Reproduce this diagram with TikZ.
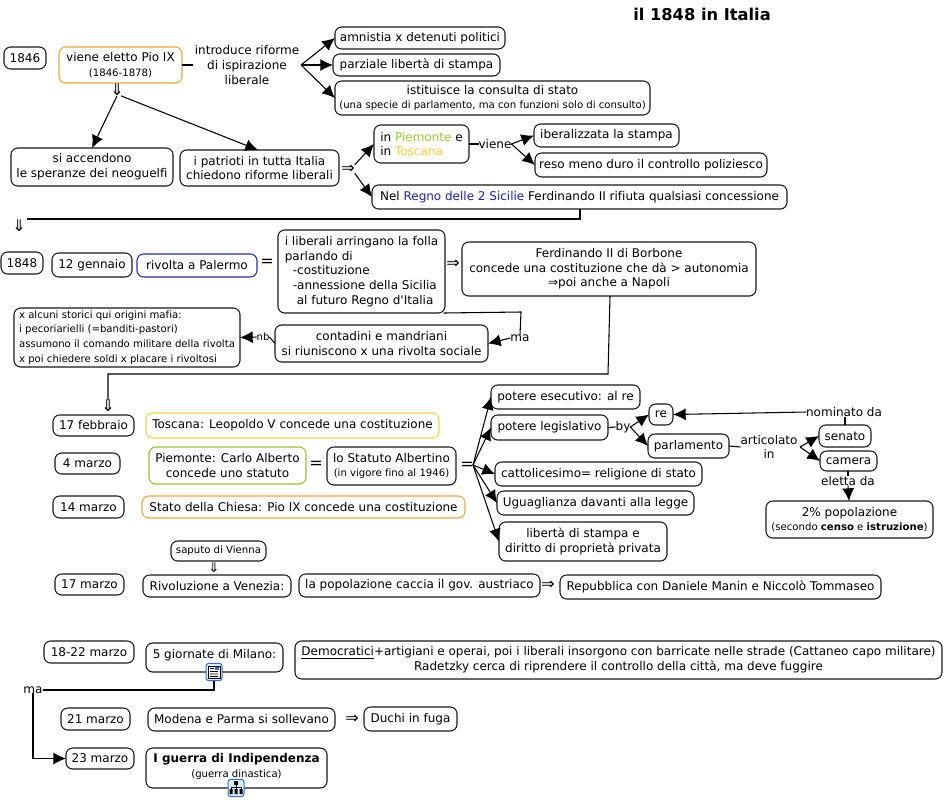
\documentclass[tikz,border=0pt]{standalone}
\usepackage{fontspec}
\usetikzlibrary{arrows.meta}
\newfontfamily\mainf[Ligatures=NoCommon]{DejaVu Sans}
\definecolor{cOrange}{HTML}{E8A83C}
\definecolor{cBlue}{HTML}{2A2AB0}
\definecolor{cYellow}{HTML}{F2D254}
\definecolor{cGreen}{HTML}{9DBE36}
\definecolor{tGreen}{HTML}{99CC33}
\definecolor{tYellow}{HTML}{FFCC33}
\definecolor{tBlue}{HTML}{1F1FB8}
\definecolor{iconBlue}{HTML}{2F6FC0}
\definecolor{iconFill}{HTML}{DCEBFA}
\newcommand\fn{\fontsize{9}{11}\selectfont}
\newcommand\sm{\fontsize{7.6}{9.4}\selectfont}
\newcommand\bx[7][]{\node[boxbase,#1,minimum width={(#5-#3)*0.75pt},minimum height={(#6-#4)*0.75pt}] (#2) at ({(#3+#5)/2},{(#4+#6)/2}) {#7};}
\tikzset{
  x=0.75pt,y=-0.75pt,
  every node/.style={font=\mainf\fn,inner sep=0pt,outer sep=0pt},
  boxbase/.style={draw=black!90,line width=0.8pt,rounded corners=5pt,align=center},
  orangebox/.style={draw=cOrange},
  bluebox/.style={draw=cBlue},
  yellowbox/.style={draw=cYellow},
  greenbox/.style={draw=cGreen},
  leftbox/.style={align=left},
  lab/.style={align=center},
  sym/.style={font=\mainf\fontsize{12}{13}\selectfont},
  arr/.style={line width=0.8pt,-{Latex[length=9.5pt,width=9pt]}},
  conn/.style={line width=0.8pt},
  iconbox/.style={draw=iconBlue,fill=iconFill,line width=0.75pt,rounded corners=2pt,minimum width=12pt,minimum height=13pt},
}
\begin{document}
\begin{tikzpicture}
\useasboundingbox (0,0) rectangle (944,800);
\fill[white] (0,0) rectangle (944,800);
\node[font=\mainf\fontsize{12.2}{14}\selectfont\bfseries] (title) at (702,14) {il 1848 in Italia};
% 1846
\bx{y1846}{4}{47}{46}{69}{1846}
\bx[orangebox]{pio}{59}{47}{182}{83}{viene eletto Pio IX\\\sm(1846-1878)}
\node[lab] (intro) at (247,65) {introduce riforme\\di ispirazione\\liberale};
\bx{amn}{335}{27}{505}{49}{amnistia x detenuti politici}
\bx{parz}{333}{54}{500}{76}{parziale libertà di stampa}
\bx{cons}{335}{81}{650}{115}{istituisce la consulta di stato\\\sm(una specie di parlamento, ma con funzioni solo di consulto)}
\draw[conn] (pio.east) -- ([xshift=-1.5pt]intro.west);
\coordinate (jintro) at (301,65);
\draw[arr] (jintro) -- (amn.west);
\draw[arr] (jintro) -- (parz.west);
\draw[arr] (jintro) -- (cons.west);
\node[sym] (dd1) at (117,90) {⇓};
\bx{neog}{11}{148}{173}{186}{si accendono\\le speranze dei neoguelfi}
\bx{patr}{180}{150}{339}{186}{i patrioti in tutta Italia\\chiedono riforme liberali}
\draw[arr] (dd1.south) -- (neog.north -| 92,0);
\draw[arr] ([xshift=3pt]dd1.south) -- (patr.north -| 258,0);
\node[sym] (ar1) at (348,169) {⇒};
\bx[leftbox]{piem}{374}{125}{469}{163}{in {\color{tGreen}Piemonte} e\\in {\color{tYellow}Toscana}}
\bx{nel}{372}{185}{787}{209}{Nel {\color{tBlue}Regno delle 2 Sicilie} Ferdinando II rifiuta qualsiasi concessione}
\draw[arr] (ar1.north east) -- (piem.west);
\draw[arr] (ar1.south east) -- (nel.west);
\node (viene) at (495,144) {viene};
\bx{iber}{534}{124}{679}{147}{iberalizzata la stampa}
\bx{reso}{535}{153}{767}{177}{reso meno duro il controllo poliziesco}
\draw[conn] (piem.east) -- (viene.west);
\draw[arr] (viene.east) -- (iber.west);
\draw[arr] (viene.east) -- (reso.west);
\node[sym] (dd2) at (19,226) {⇓};
\coordinate (t2) at (27,219);
\draw[conn] (nel.south -| 580,0) -- (580,219) -- (t2);
% 1848
\bx{y1848}{1}{252}{43}{274}{1848}
\bx{genn}{52}{253}{132}{277}{12 gennaio}
\bx[bluebox]{palermo}{137}{254}{257}{277}{rivolta a Palermo}
\node[sym] (eq1) at (267,263) {=};
\bx[leftbox]{lib}{278}{230}{445}{313}{i liberali arringano la folla\\parlando di\\\hspace*{6pt}-costituzione\\\hspace*{6pt}-annessione della Sicilia\\\hspace*{9pt}al futuro Regno d'Italia}
\node[sym] (ar2) at (453,264) {⇒};
\bx{ferd}{462}{242}{756}{296}{Ferdinando II di Borbone\\concede una costituzione che dà > autonomia\\⇒poi anche a Napoli}
\node (ma1) at (520,338) {ma};
\bx{cont}{275}{325}{488}{362}{contadini e mandriani\\si riuniscono x una rivolta sociale}
\node[font=\mainf\sm] (nb) at (263,337) {nb};
\bx[leftbox]{stor}{14}{308}{240}{367}{\sm x alcuni storici qui origini mafia:\\\sm i pecoriarielli (=banditi-pastori)\\\sm assumono il comando militare della rivolta\\\sm x poi chiedere soldi x placare i rivoltosi}
\draw[conn] (lib.south east) ++(-1pt,0) -- (521,312) -- (ma1.north);
\draw[arr] (ma1.west) -- (cont.east);
\draw[conn] (cont.west) -- (nb.east);
\draw[arr] (nb.west) -- (stor.east);
\node[sym] (dd3) at (108,406) {⇓};
\draw[conn] (ferd.south -| 610,0) -- (608,374) -- (108,374) -- (dd3.north);
% 17 febbraio
\bx{feb17}{53}{415}{134}{436}{17 febbraio}
\bx[yellowbox]{tosc}{146}{413}{439}{438}{Toscana: Leopoldo V concede una costituzione}
\bx{mar4}{55}{453}{120}{474}{4 marzo}
\bx[greenbox]{piem2}{149}{447}{306}{484}{Piemonte: Carlo Alberto\\concede uno statuto}
\node[sym] (eq2) at (316,465) {=};
\bx{stat}{327}{447}{456}{485}{lo Statuto Albertino\\\sm(in vigore fino al 1946)}
\node[sym] (eq3) at (467,466) {=};
\bx{esec}{491}{385}{640}{409}{potere esecutivo: al re}
\bx{legi}{491}{415}{608}{440}{potere legislativo}
\bx{catt}{495}{462}{702}{486}{cattolicesimo= religione di stato}
\bx{ugua}{497}{491}{694}{515}{Uguaglianza davanti alla legge}
\bx{libe}{499}{522}{667}{561}{libertà di stampa e\\diritto di proprietà privata}
\coordinate (jeq) at (473,465);
\draw[arr] (jeq) -- (esec.west);
\draw[arr] (jeq) -- (legi.west);
\draw[arr] (jeq) -- (catt.west);
\draw[arr] (jeq) -- (ugua.west);
\draw[arr] (jeq) -- (libe.west);
\node (by) at (623,427) {by};
\bx{re}{649}{404}{673}{425}{re}
\bx{parl}{648}{434}{729}{458}{parlamento}
\draw[conn] (legi.east) -- (by.west);
\draw[arr] (by.east) -- (re.west);
\draw[arr] (by.east) -- (parl.west);
\node[lab] (artic) at (769,447) {articolato\\in};
\bx{sen}{819}{425}{871}{447}{senato}
\bx{cam}{820}{451}{877}{471}{camera}
\draw[conn] (parl.east) -- (artic.west);
\coordinate (jart) at (800,447);
\draw[arr] (jart) -- (sen.west);
\draw[arr] (jart) -- (cam.west);
\node (nom) at (844,412) {nominato da};
\draw[arr] (nom.west) -- (re.east);
\draw[conn] (nom.south -| 845,0) -- (sen.north -| 845,0);
\node (elet) at (848,481) {eletta da};
\bx{pop}{766}{501}{933}{538}{2\% popolazione\\\sm(secondo \textbf{censo} e \textbf{istruzione})}
\draw[conn] (cam.south -| 848,0) -- (elet.north);
\draw[arr] (elet.south) -- (pop.north -| 849,0);
% 14 marzo
\bx{mar14}{53}{496}{124}{518}{14 marzo}
\bx[orangebox]{chiesa}{142}{496}{465}{518}{Stato della Chiesa: Pio IX concede una costituzione}
\bx{vienna}{171}{541}{266}{561}{\sm saputo di Vienna}
\node[font=\mainf\fontsize{10}{11}\selectfont] (dd4) at (214,568) {⇓};
\bx{mar17}{55}{574}{124}{595}{17 marzo}
\bx{riv}{143}{575}{291}{597}{Rivoluzione a Venezia:}
\bx{caccia}{299}{574}{540}{597}{la popolazione caccia il gov. austriaco}
\node[sym] (ar3) at (548,585) {⇒};
\bx{rep}{560}{575}{881}{599}{Repubblica con Daniele Manin e Niccolò Tommaseo}
% 18-22
\bx{mar18}{44}{641}{134}{663}{18-22 marzo}
\bx{gior}{146}{643}{283}{672}{5 giornate di Milano:\rule[-5pt]{0pt}{1pt}}
\bx{demo}{295}{641}{942}{679}{\underline{Democratici}+artigiani e operai, poi i liberali insorgono con barricate nelle strade (Cattaneo capo militare)\\Radetzky cerca di riprendere il controllo della città, ma deve fuggire}
\node[iconbox] (ic1) at (214,672) {};
\fill[white,draw=black,line width=.4pt] (208,666) rectangle (220,678);
\fill[black] (210,668) rectangle (214,669) (210,671) rectangle (218,671.8) (210,673.5) rectangle (218,674.3) (210,676) rectangle (218,676.8);
\fill[iconBlue] (215,667) rectangle (219,670);
\node (ma2) at (33,690) {ma};
\draw[conn] (ic1.south) -- (214,690) -- (ma2.east);
\bx{mar21}{61}{708}{130}{730}{21 marzo}
\bx{mod}{148}{708}{335}{731}{Modena e Parma si sollevano}
\node[sym] (ar4) at (352,719) {⇒};
\bx{duchi}{364}{707}{457}{731}{Duchi in fuga}
\bx{mar23}{66}{748}{134}{769}{23 marzo}
\bx{guerra}{146}{748}{327}{788}{\textbf{I guerra di Indipendenza}\\\sm(guerra dinastica)\rule[-4pt]{0pt}{1pt}}
\draw[arr] (ma2.south) |- (mar23.west);
\node[iconbox] (ic2) at (236,788) {};
\fill[black] (234,781) rectangle (238,785);
\fill[black] (229.5,789) rectangle (232.5,794) (234.5,789) rectangle (237.5,794) (239.5,789) rectangle (242.5,794);
\draw[black,line width=.5pt] (236,785) -- (236,789) (231,789) -- (231,787) -- (241,787) -- (241,789);
\end{tikzpicture}
\end{document}
